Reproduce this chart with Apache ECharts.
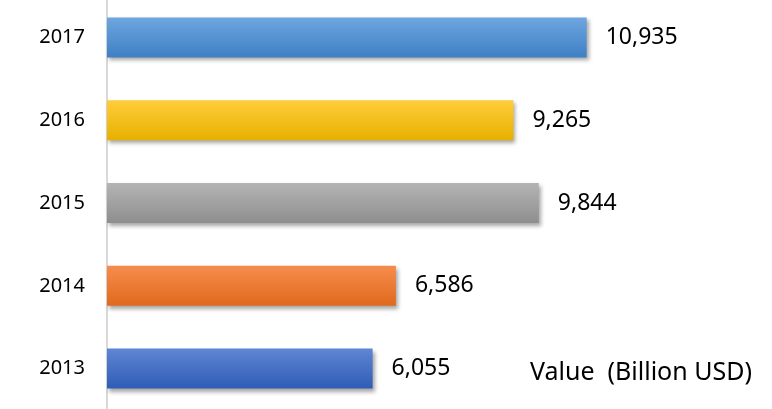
<!DOCTYPE html>
<html>
<head>
<meta charset="utf-8">
<script src="https://cdn.jsdelivr.net/npm/echarts@6/dist/echarts.min.js"></script>
<style>
  html, body { margin: 0; padding: 0; background: #fff; }
  #main { width: 772px; height: 409px; }
</style>
</head>
<body>
<div id="main"></div>
<script>
// data
const years = ['2013', '2014', '2015', '2016', '2017']
const values = [6055, 6586, 9844, 9265, 10935]
const axisTitle = 'Value  (Billion USD)'

// top / bottom gradient stops for each bar
const barColors = [
  ['#5f86d2', '#2f5cb6'],
  ['#f68d4d', '#e0691c'],
  ['#b4b4b4', '#8e8e8e'],
  ['#ffcd3c', '#e7b000'],
  ['#6ea6df', '#3e80c5']
]

const chart = echarts.init(document.getElementById('main'))

const options = {
  animation: false,
  title: {
    text: axisTitle,
    left: 525,
    top: 355,
    textStyle: {
      fontFamily: 'Noto Sans',
      fontWeight: 'normal',
      fontSize: 25,
      color: '#000'
    }
  },
  grid: {
    left: 107,
    right: 7,
    top: -4,
    bottom: -1,
    outerBoundsMode: 'none'
  },
  xAxis: {
    type: 'value',
    min: 0,
    max: 15000,
    show: false
  },
  yAxis: {
    type: 'category',
    data: years,
    axisLine: {
      show: true,
      lineStyle: { color: '#d9d9d9', width: 2 }
    },
    axisTick: { show: false },
    axisLabel: {
      margin: 22,
      fontFamily: 'Noto Sans',
      fontSize: 20,
      color: '#000'
    }
  },
  series: [{
    type: 'bar',
    barWidth: 40,
    data: values.map((v, i) => ({
      value: v,
      itemStyle: {
        color: new echarts.graphic.LinearGradient(0, 0, 0, 1, [
          { offset: 0, color: barColors[i][0] },
          { offset: 1, color: barColors[i][1] }
        ])
      }
    })),
    itemStyle: {
      shadowColor: 'rgba(0,0,0,0.35)',
      shadowBlur: 4,
      shadowOffsetX: 2,
      shadowOffsetY: 3
    },
    label: {
      show: true,
      position: 'right',
      distance: 19,
      fontFamily: 'Noto Sans',
      fontSize: 23,
      color: '#000',
      formatter: p => p.value.toLocaleString('en-US')
    }
  }]
}

chart.setOption(options)
</script>
</body>
</html>
